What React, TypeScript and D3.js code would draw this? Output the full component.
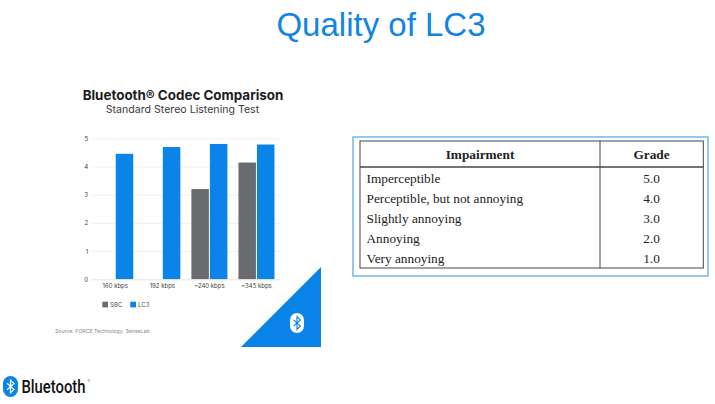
import { useEffect, useRef } from "react";
import { select, scaleBand, scaleLinear, axisBottom, axisLeft, format } from "d3";

const categories = ["160 kbps", "192 kbps", "~240 kbps", "~345 kbps"];
const seriesNames = ["SBC", "LC3"];
const sbcValues = [null, null, 3.2, 4.14];
const lc3Values = [4.45, 4.69, 4.8, 4.78];
const yTicks = [0, 1, 2, 3, 4, 5];

const tableHeader = ["Impairment", "Grade"];
const impairments = ["Imperceptible", "Perceptible, but not annoying", "Slightly annoying", "Annoying", "Very annoying"];
const grades = ["5.0", "4.0", "3.0", "2.0", "1.0"];

const BLUE = "#0a84e8";
const GREY = "#6a6b6e";
const RUNE = "M-3.4,-3.2 L3.4,3 L0,6.4 L0,-6.4 L3.4,-3 L-3.4,3.2";

export default function App() {
    const svgRef = useRef<SVGSVGElement>(null);

    useEffect(() => {
        const svg = select(svgRef.current);
        svg.selectAll("*").remove();

        // Slide title
        svg.append("text")
            .attr("x", 381)
            .attr("y", 36)
            .attr("text-anchor", "middle")
            .attr("font-family", "Liberation Sans")
            .attr("font-size", 33)
            .attr("fill", "#1284e6")
            .text("Quality of LC3");

        // Chart headings
        svg.append("text")
            .attr("x", 183)
            .attr("y", 100)
            .attr("text-anchor", "middle")
            .attr("font-family", "Inter")
            .attr("font-weight", 700)
            .attr("font-size", 13.4)
            .attr("fill", "#1c1c1e")
            .text("Bluetooth® Codec Comparison");
        svg.append("text")
            .attr("x", 182.5)
            .attr("y", 113)
            .attr("text-anchor", "middle")
            .attr("font-family", "Inter")
            .attr("font-size", 10.6)
            .attr("fill", "#3a3a3c")
            .text("Standard Stereo Listening Test");

        // Scales
        const x = scaleBand<string>().domain(categories).range([91.7, 280]).paddingInner(0.235).paddingOuter(0.1175);
        const inner = scaleBand<string>().domain(seriesNames).range([0, x.bandwidth()]).paddingInner(0.055);
        const y = scaleLinear().domain([0, 5]).range([279.3, 138.3]);

        // Grid and y labels
        const yAxis = svg.append("g")
            .attr("transform", "translate(91.7,0)")
            .call(axisLeft(y).tickValues(yTicks).tickFormat(format("d")).tickSize(-188.3).tickPadding(3.5));
        yAxis.select(".domain").remove();
        yAxis.selectAll("line").attr("stroke", "#f1f1f1").attr("stroke-width", 1);
        yAxis.selectAll("text")
            .attr("font-family", "Inter")
            .attr("font-size", 6.2)
            .attr("fill", "#444");

        // Bars
        const rows = [sbcValues, lc3Values];
        seriesNames.forEach((name, i) => {
            svg.append("g")
                .selectAll("rect")
                .data(categories.map((c, j) => ({ c, v: rows[i][j] })).filter((d) => d.v !== null))
                .join("rect")
                .attr("x", (d) => (x(d.c) as number) + (inner(name) as number))
                .attr("y", (d) => y(d.v as number))
                .attr("width", inner.bandwidth())
                .attr("height", (d) => y(0) - y(d.v as number))
                .attr("fill", i === 0 ? GREY : BLUE);
        });

        // Category labels
        const xAxis = svg.append("g")
            .attr("transform", "translate(0,279.3)")
            .call(axisBottom(x).tickSize(0).tickPadding(4));
        xAxis.select(".domain").attr("stroke", "#ececec");
        xAxis.selectAll("text")
            .attr("font-family", "Inter")
            .attr("font-size", 6)
            .attr("fill", "#444");

        // Legend
        seriesNames.forEach((name, i) => {
            const lx = 102.3 + i * 28;
            svg.append("rect")
                .attr("x", lx)
                .attr("y", 301.7)
                .attr("width", 5.7)
                .attr("height", 5.7)
                .attr("fill", i === 0 ? GREY : BLUE);
            svg.append("text")
                .attr("x", lx + 7.7)
                .attr("y", 307)
                .attr("font-family", "Inter")
                .attr("font-size", 6.2)
                .attr("fill", "#555")
                .text(name);
        });

        svg.append("text")
            .attr("x", 55)
            .attr("y", 333)
            .attr("font-family", "Inter")
            .attr("font-size", 5.2)
            .attr("fill", "#8a8a8a")
            .text("Source: FORCE Technology, SenseLab");

        // Corner triangle with rune
        svg.append("path").attr("d", "M241,347 L321,267 L321,347 Z").attr("fill", BLUE);
        svg.append("rect")
            .attr("x", 290)
            .attr("y", 313)
            .attr("width", 14)
            .attr("height", 20)
            .attr("rx", 7)
            .attr("fill", "#fff");
        svg.append("path")
            .attr("d", RUNE)
            .attr("transform", "translate(297,323)")
            .attr("fill", "none")
            .attr("stroke", BLUE)
            .attr("stroke-width", 1.1);

        // Table
        const table = svg.append("g");
        table.append("rect")
            .attr("x", 353)
            .attr("y", 137)
            .attr("width", 355)
            .attr("height", 139)
            .attr("fill", "#fff")
            .attr("stroke", "#6db8f0")
            .attr("stroke-width", 1.5);
        table.append("rect")
            .attr("x", 360)
            .attr("y", 141)
            .attr("width", 343.3)
            .attr("height", 127)
            .attr("fill", "none")
            .attr("stroke", "#444")
            .attr("stroke-width", 1);
        table.append("line")
            .attr("x1", 360)
            .attr("x2", 703.3)
            .attr("y1", 167)
            .attr("y2", 167)
            .attr("stroke", "#444")
            .attr("stroke-width", 1.5);
        table.append("line")
            .attr("x1", 600)
            .attr("x2", 600)
            .attr("y1", 141)
            .attr("y2", 268)
            .attr("stroke", "#444")
            .attr("stroke-width", 1);

        const serif = "Liberation Serif";
        table.append("text")
            .attr("x", 480)
            .attr("y", 159)
            .attr("text-anchor", "middle")
            .attr("font-family", serif)
            .attr("font-weight", 700)
            .attr("font-size", 13.3)
            .attr("fill", "#222")
            .text(tableHeader[0]);
        table.append("text")
            .attr("x", 651.5)
            .attr("y", 159)
            .attr("text-anchor", "middle")
            .attr("font-family", serif)
            .attr("font-weight", 700)
            .attr("font-size", 13.3)
            .attr("fill", "#222")
            .text(tableHeader[1]);

        const rowY = scaleBand<string>().domain(impairments).range([168, 268.5]);
        table.append("g")
            .selectAll("text")
            .data(impairments)
            .join("text")
            .attr("x", 366.5)
            .attr("y", (d) => (rowY(d) as number) + 14.5)
            .attr("font-family", serif)
            .attr("font-size", 13.3)
            .attr("fill", "#222")
            .text((d) => d);
        table.append("g")
            .selectAll("text")
            .data(grades)
            .join("text")
            .attr("x", 651.5)
            .attr("y", (_, i) => (rowY(impairments[i]) as number) + 14.5)
            .attr("text-anchor", "middle")
            .attr("font-family", serif)
            .attr("font-size", 13.3)
            .attr("fill", "#222")
            .text((d) => d);

        // Bluetooth wordmark, squeezed to the reference's narrow letters
        svg.append("rect")
            .attr("x", 3)
            .attr("y", 376)
            .attr("width", 15)
            .attr("height", 21)
            .attr("rx", 7.5)
            .attr("fill", BLUE);
        svg.append("path")
            .attr("d", RUNE)
            .attr("transform", "translate(10.5,386.5)")
            .attr("fill", "none")
            .attr("stroke", "#fff")
            .attr("stroke-width", 1.2);
        const word = svg.append("text")
            .attr("font-family", "Roboto")
            .attr("font-weight", 500)
            .attr("font-size", 19)
            .attr("fill", "#111")
            .text("Bluetooth");
        const wordWidth = (word.node() as SVGTextElement).getComputedTextLength();
        word.attr("transform", `translate(21.5,393) scale(${64 / wordWidth},1)`);
        svg.append("text")
            .attr("x", 87.5)
            .attr("y", 381.5)
            .attr("font-family", "Roboto")
            .attr("font-size", 3.5)
            .attr("fill", "#777")
            .text("®");
    }, []);

    return <svg ref={svgRef} width={715} height={404} style={{ position: "absolute", left: 0, top: 0, background: "#fff" }} />;
}
